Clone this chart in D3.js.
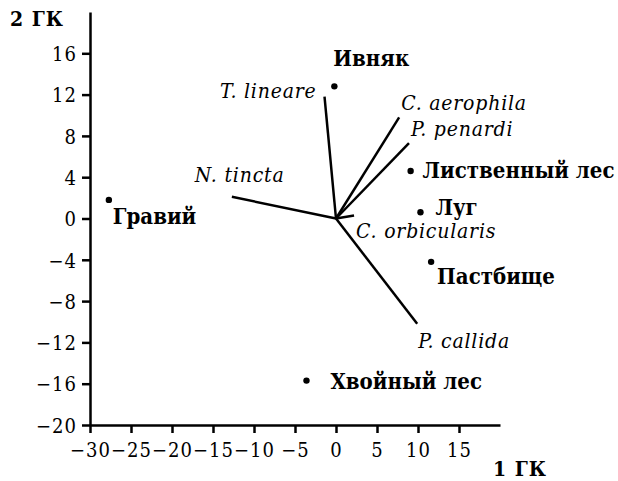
<!DOCTYPE html>
<html>
  <head>
    <meta charset="utf-8">
    <script src="https://d3js.org/d3.v7.min.js"></script>
    <style>
      body { margin: 0px; background: #fff; }
      svg text { fill: #000; font-family: 'DejaVu Serif Condensed', 'DejaVu Serif'; font-stretch: condensed; }
      .site-label { font-size: 22px; font-weight: bold; }
      .axis-label { font-size: 21px; font-weight: bold; letter-spacing: 1px; }
      .species-label { font-size: 21px; font-style: italic; letter-spacing: 0.8px; }
      .tick text { letter-spacing: 1px; }
    </style>
  </head>
  <body>
    <svg width="618" height="481"></svg>
    <script>
      // site scores (1 ГК, 2 ГК)
      const siteNames = ['Ивняк', 'Лиственный лес', 'Луг', 'Пастбище', 'Гравий', 'Хвойный лес'];
      const siteX = [-0.2, 9.1, 10.3, 11.6, -27.7, -3.6];
      const siteY = [12.8, 4.6, 0.6, -4.2, 1.8, -15.7];

      // species vectors
      const speciesNames = ['T. lineare', 'C. aerophila', 'P. penardi', 'N. tincta', 'C. orbicularis', 'P. callida'];
      const speciesX = [-1.4, 7.7, 8.9, -12.7, 2.2, 9.9];
      const speciesY = [11.8, 9.8, 7.3, 2.1, 0.3, -10.2];

      const xTicks = [-30, -25, -20, -15, -10, -5, 0, 5, 10, 15];
      const yTicks = [-20, -16, -12, -8, -4, 0, 4, 8, 12, 16];

      // label placement (px offsets from the point / vector tip)
      const siteOffsets = [[-1, -20], [12, 7], [15, 3], [6, 22], [4, 24], [24, 8]];
      const speciesOffsets = [[-8, 1, 'end'], [2, -7, 'start'], [2, -7, 'start'], [-37, -15, 'start'], [2, 23, 'start'], [1, 24, 'start']];

      const svg = d3.select('svg');

      const xScale = d3.scaleLinear().domain([-30, 20]).range([90, 500]);
      const yScale = d3.scaleLinear().domain([-20, 20]).range([425, 12]);
      const fmt = d => d < 0 ? '\u2212' + Math.abs(d) : String(d);

      const xAxis = d3.axisBottom(xScale)
        .tickValues(xTicks)
        .tickSizeInner(8)
        .tickSizeOuter(0)
        .tickPadding(4)
        .tickFormat(fmt);

      const yAxis = d3.axisLeft(yScale)
        .tickValues(yTicks)
        .tickSizeInner(8)
        .tickSizeOuter(0)
        .tickPadding(5)
        .tickFormat(fmt);

      const xAxisG = svg.append('g')
        .attr('transform', `translate(0,${yScale(-20)})`)
        .call(xAxis);
      const yAxisG = svg.append('g')
        .attr('transform', `translate(${xScale(-30)},0)`)
        .call(yAxis);

      [xAxisG, yAxisG].forEach(a => {
        a.attr('font-size', 20);
        a.select('.domain').attr('stroke', '#000').attr('stroke-width', 2.5);
        a.selectAll('.tick line').attr('stroke', '#000').attr('stroke-width', 2.5);
        a.selectAll('.tick text').attr('fill', '#000');
      });
      xAxisG.selectAll('.tick text').attr('dy', '1em');
      yAxisG.selectAll('.tick text').attr('dy', '0.36em');

      svg.append('text')
        .attr('class', 'axis-label')
        .attr('x', 10)
        .attr('y', 26)
        .text('2 ГК');

      svg.append('text')
        .attr('class', 'axis-label')
        .attr('x', 493)
        .attr('y', 476)
        .text('1 ГК');

      // species vectors
      const species = speciesNames.map((n, i) => ({ name: n, x: speciesX[i], y: speciesY[i], off: speciesOffsets[i] }));
      svg.selectAll('.vector').data(species)
        .enter().append('line')
          .attr('class', 'vector')
          .attr('x1', xScale(0))
          .attr('y1', yScale(0))
          .attr('x2', d => xScale(d.x))
          .attr('y2', d => yScale(d.y))
          .attr('stroke', '#000')
          .attr('stroke-width', 2.5);

      svg.selectAll('.species-label').data(species)
        .enter().append('text')
          .attr('class', 'species-label')
          .attr('x', d => xScale(d.x) + d.off[0])
          .attr('y', d => yScale(d.y) + d.off[1])
          .attr('text-anchor', d => d.off[2])
          .text(d => d.name);

      // sites
      const sites = siteNames.map((n, i) => ({ name: n, x: siteX[i], y: siteY[i], off: siteOffsets[i] }));
      svg.selectAll('.site').data(sites)
        .enter().append('circle')
          .attr('class', 'site')
          .attr('cx', d => xScale(d.x))
          .attr('cy', d => yScale(d.y))
          .attr('r', 3.2)
          .attr('fill', '#000');

      svg.selectAll('.site-label').data(sites)
        .enter().append('text')
          .attr('class', 'site-label')
          .attr('x', d => xScale(d.x) + d.off[0])
          .attr('y', d => yScale(d.y) + d.off[1])
          .text(d => d.name);
    </script>
  </body>
</html>
